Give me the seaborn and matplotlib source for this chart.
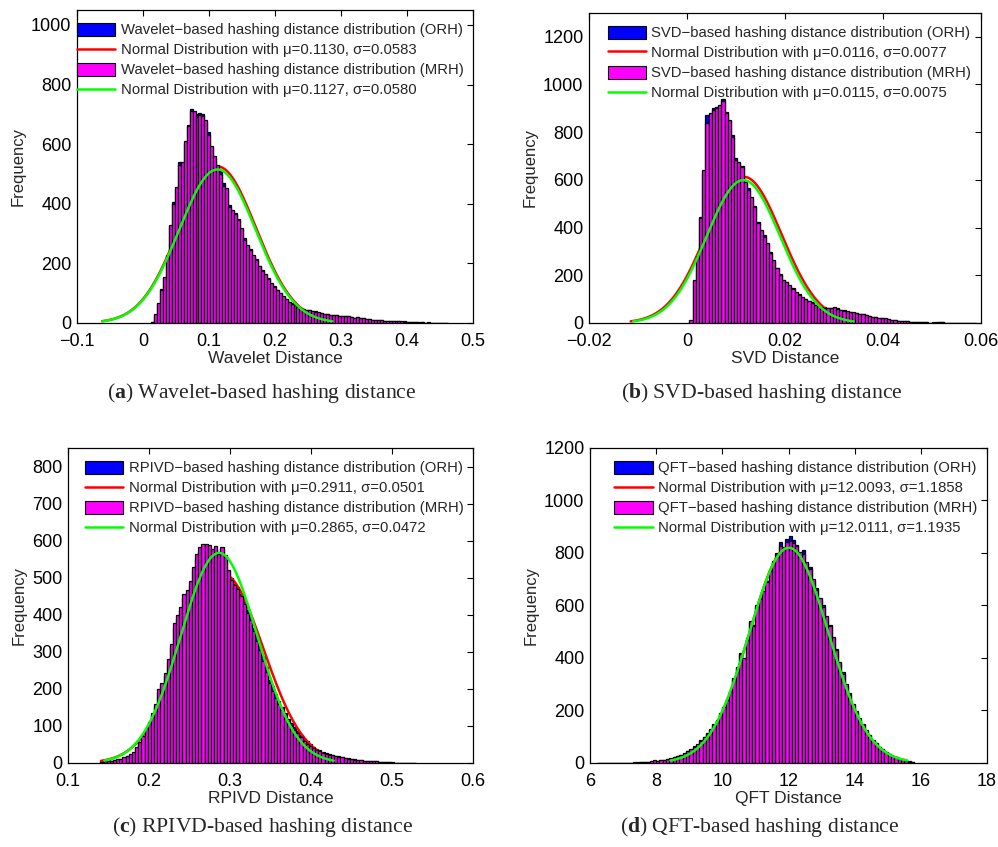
import numpy as np
import pandas as pd
import matplotlib
matplotlib.use('Agg')
import matplotlib.pyplot as plt
import seaborn as sns
from matplotlib.patches import Patch
from matplotlib.lines import Line2D
from matplotlib.ticker import FuncFormatter

# Conteos (MRH = magenta, ORH = azul)
wavelet_mrh = [4, 30, 66, 112, 155, 225, 330, 400, 455, 530,
               540, 612, 660, 710, 712, 690, 698, 695, 680, 630,
               595, 560, 530, 500, 458, 452, 390, 378, 365, 345,
               318, 280, 262, 245, 228, 210, 192, 176, 165, 147,
               134, 122, 112, 100, 90, 80, 72, 64, 60, 54,
               50, 47, 44, 42, 40, 38, 36, 33, 31, 30,
               28, 27, 28, 24, 25, 22, 23, 20, 18, 19,
               16, 15, 14, 13, 11, 10, 10, 9, 8, 8,
               7, 6, 6, 5, 5, 4, 4, 3, 3, 2,
               2, 2, 1, 1, 1, 1, 1, 0, 1, 0]
wavelet_orh = [3, 28, 64, 115, 150, 228, 325, 405, 450, 540,
               535, 605, 665, 718, 705, 700, 705, 700, 675, 640,
               590, 555, 525, 510, 470, 445, 395, 372, 368, 350,
               315, 285, 258, 248, 225, 214, 190, 178, 162, 150,
               132, 124, 110, 102, 88, 82, 70, 66, 58, 55,
               48, 48, 43, 43, 39, 39, 35, 34, 30, 31,
               27, 28, 27, 25, 24, 23, 22, 21, 17, 19,
               15, 16, 13, 14, 10, 11, 9, 10, 7, 8,
               6, 7, 5, 6, 4, 5, 3, 4, 2, 3,
               1, 2, 1, 2, 0, 1, 0, 1, 0, 0]

svd_mrh = [13, 180, 280, 440, 640, 840, 880, 893, 900, 914,
           932, 879, 851, 781, 683, 676, 655, 592, 557, 529,
           487, 418, 390, 362, 334, 292, 264, 229, 200, 182,
           170, 158, 142, 128, 117, 108, 100, 92, 85, 76,
           70, 66, 64, 63, 62, 66, 60, 55, 52, 50,
           47, 44, 40, 38, 36, 33, 30, 27, 24, 22,
           20, 19, 16, 14, 12, 10, 9, 8, 7, 6,
           4, 3, 3, 2, 2, 1, 1, 2, 3, 2,
           1, 0, 1, 0, 1, 0, 1, 0, 0, 1]
svd_orh = [10, 175, 285, 445, 630, 870, 875, 900, 905, 910,
           940, 885, 845, 790, 690, 670, 660, 585, 565, 520,
           490, 425, 385, 368, 330, 298, 260, 232, 205, 180,
           172, 155, 145, 125, 120, 105, 102, 90, 87, 74,
           72, 64, 66, 61, 64, 64, 62, 53, 54, 48,
           48, 43, 41, 37, 37, 32, 31, 26, 25, 21,
           21, 18, 17, 13, 13, 9, 10, 7, 8, 5,
           5, 3, 4, 2, 3, 1, 2, 1, 2, 3,
           1, 1, 0, 1, 0, 1, 0, 1, 0, 0]

rpivd_mrh = [3, 4, 5, 6, 9, 10, 12, 15, 18, 24,
             30, 42, 57, 72, 94, 110, 134, 160, 200, 215,
             242, 280, 320, 377, 400, 420, 457, 466, 490, 530,
             565, 582, 590, 592, 587, 578, 585, 565, 584, 560,
             520, 495, 479, 470, 450, 430, 405, 385, 355, 330,
             304, 275, 245, 215, 195, 175, 158, 142, 125, 112,
             100, 89, 80, 70, 60, 52, 47, 40, 35, 31,
             27, 25, 22, 21, 19, 17, 15, 14, 12, 10,
             9, 8, 7, 6, 6, 5, 4, 4, 3, 3,
             2, 2, 1, 1, 1, 1, 0, 1, 0, 1]
rpivd_orh = [5, 4, 7, 6, 8, 12, 11, 14, 20, 22,
             28, 40, 55, 70, 90, 106, 130, 155, 192, 210,
             236, 272, 312, 365, 392, 412, 445, 460, 480, 520,
             550, 570, 578, 582, 580, 572, 578, 560, 578, 556,
             518, 498, 482, 474, 455, 438, 412, 395, 365, 342,
             315, 288, 258, 225, 208, 186, 168, 152, 136, 120,
             108, 98, 86, 76, 66, 58, 51, 44, 38, 34,
             30, 27, 24, 22, 20, 18, 16, 14, 13, 11,
             10, 8, 8, 6, 6, 5, 5, 4, 3, 3,
             2, 2, 2, 1, 1, 1, 1, 0, 1, 0]

qft_mrh = [1, 0, 1, 0, 1, 0, 1, 1, 0, 1,
           1, 1, 2, 3, 3, 4, 6, 10, 8, 12,
           12, 14, 18, 22, 28, 30, 38, 45, 52, 62,
           72, 85, 100, 112, 128, 145, 165, 185, 215, 240,
           275, 320, 365, 415, 400, 470, 540, 520, 600, 625,
           655, 690, 730, 770, 790, 825, 815, 840, 845, 838,
           825, 805, 795, 765, 740, 700, 660, 630, 595, 560,
           520, 480, 430, 385, 340, 300, 260, 225, 195, 170,
           145, 125, 105, 88, 75, 62, 52, 42, 35, 28,
           22, 16, 12, 8, 5, 3]
qft_orh = [0, 1, 0, 1, 0, 1, 0, 1, 1, 0,
           1, 2, 1, 2, 4, 3, 5, 9, 9, 11,
           13, 15, 17, 23, 27, 32, 36, 46, 50, 64,
           70, 88, 98, 115, 125, 148, 162, 190, 212, 245,
           270, 325, 360, 420, 395, 475, 535, 525, 595, 630,
           650, 695, 735, 765, 800, 840, 822, 855, 865, 850,
           830, 800, 810, 760, 745, 695, 665, 625, 600, 555,
           525, 475, 435, 380, 345, 295, 265, 220, 198, 165,
           148, 122, 108, 85, 78, 60, 54, 40, 36, 27,
           23, 15, 13, 7, 6, 2]

# Parametros de cada panel: inicio de bins, ancho, mu/sigma/pico de las normales
paneles = [
    dict(nombre='Wavelet', mrh=wavelet_mrh, orh=wavelet_orh, inicio=0.012, ancho=0.0045,
         mu_orh=0.1130, sd_orh=0.0583, pico_orh=525, mu_mrh=0.1127, sd_mrh=0.0580, pico_mrh=515,
         xticks=[-0.1, 0, 0.1, 0.2, 0.3, 0.4, 0.5], yticks=range(0, 1001, 200), ylim=1050,
         caption='a', cap_xy=(262, 393), pos=[0.0772, 0.6187, 0.3968, 0.3695]),
    dict(nombre='SVD', mrh=svd_mrh, orh=svd_orh, inicio=0.0005, ancho=0.00065,
         mu_orh=0.0116, sd_orh=0.0077, pico_orh=613, mu_mrh=0.0115, sd_mrh=0.0075, pico_mrh=599,
         xticks=[-0.02, 0, 0.02, 0.04, 0.06], yticks=range(0, 1201, 200), ylim=1300,
         caption='b', cap_xy=(762, 393), pos=[0.5902, 0.6187, 0.3928, 0.3660]),
    dict(nombre='RPIVD', mrh=rpivd_mrh, orh=rpivd_orh, inicio=0.14, ancho=0.0039,
         mu_orh=0.2911, sd_orh=0.0501, pico_orh=510, mu_mrh=0.2865, sd_mrh=0.0472, pico_mrh=567,
         xticks=[0.1, 0.2, 0.3, 0.4, 0.5, 0.6], yticks=range(0, 801, 100), ylim=850,
         caption='c', cap_xy=(262, 827), pos=[0.0681, 0.0992, 0.4058, 0.3719]),
    dict(nombre='QFT', mrh=qft_mrh, orh=qft_orh, inicio=6.2, ancho=0.1,
         mu_orh=12.0093, sd_orh=1.1858, pico_orh=822, mu_mrh=12.0111, sd_mrh=1.1935, pico_mrh=820,
         xticks=[6, 8, 10, 12, 14, 16, 18], yticks=range(0, 1201, 200), ylim=1200,
         caption='d', cap_xy=(760, 827), pos=[0.5912, 0.0992, 0.3978, 0.3719]),
]

sns.set_style('white')
plt.rcParams['font.family'] = ['Liberation Sans', 'DejaVu Sans']
plt.rcParams['mathtext.fontset'] = 'custom'
plt.rcParams['mathtext.rm'] = 'Liberation Serif'
plt.rcParams['mathtext.bf'] = 'Liberation Serif:bold'

azul = '#0000ff'
magenta = '#ff00ff'
rojo = '#ff0000'
verde = '#00ff00'
menos = '\u2212'

W, H = 998, 847
fig = plt.figure(figsize=(W / 100, H / 100), dpi=100)
fmt = FuncFormatter(lambda v, p: f'{v:g}'.replace('-', menos))


def curva_normal(mu, sd, pico):
    xs = np.linspace(mu - 3 * sd, mu + 3 * sd, 300)
    ys = pico * np.exp(-0.5 * ((xs - mu) / sd) ** 2)
    return xs, ys


nombres_cap = {'a': 'Wavelet', 'b': 'SVD', 'c': 'RPIVD', 'd': 'QFT'}

for p in paneles:
    ax = fig.add_axes(p['pos'])
    n = len(p['mrh'])
    bordes = (p['inicio'] + p['ancho'] * np.arange(n + 1)).tolist()
    centros = [(bordes[i] + bordes[i + 1]) / 2 for i in range(n)]
    df = pd.DataFrame({'centro': centros, 'orh': p['orh'], 'mrh': p['mrh']})

    # ORH primero, luego la normal roja, luego MRH encima y la verde al final
    sns.histplot(data=df, x='centro', weights='orh', bins=bordes, ax=ax, color=azul,
                 edgecolor='black', linewidth=0.9, alpha=1, zorder=1)
    xr, yr = curva_normal(p['mu_orh'], p['sd_orh'], p['pico_orh'])
    sns.lineplot(x=xr, y=yr, ax=ax, color=rojo, linewidth=1.8, zorder=2)
    sns.histplot(data=df, x='centro', weights='mrh', bins=bordes, ax=ax, color=magenta,
                 edgecolor='black', linewidth=0.9, alpha=1, zorder=3)
    xg, yg = curva_normal(p['mu_mrh'], p['sd_mrh'], p['pico_mrh'])
    sns.lineplot(x=xg, y=yg, ax=ax, color=verde, linewidth=1.8, zorder=4)

    ax.set_xlim(p['xticks'][0], p['xticks'][-1])
    ax.set_ylim(0, p['ylim'])
    ax.set_xticks(p['xticks'])
    ax.set_yticks(list(p['yticks']))
    ax.xaxis.set_major_formatter(fmt)
    ax.yaxis.set_major_formatter(fmt)
    ax.tick_params(direction='in', length=4, width=0.8, top=True, right=True,
                   labelsize=13, colors='black')
    ax.tick_params(axis='x', pad=7)
    ax.tick_params(axis='y', pad=4)
    for s in ax.spines.values():
        s.set_color('black')
        s.set_linewidth(0.9)
    ax.set_xlabel(f"{p['nombre']} Distance", fontsize=12.5, labelpad=1)
    ax.set_ylabel('Frequency', fontsize=12, labelpad=4)

    nom = p['nombre']
    handles = [
        Patch(facecolor=azul, edgecolor='black', linewidth=0.8),
        Line2D([], [], color=rojo, linewidth=1.8),
        Patch(facecolor=magenta, edgecolor='black', linewidth=0.8),
        Line2D([], [], color=verde, linewidth=1.8),
    ]
    labels = [
        f'{nom}{menos}based hashing distance distribution (ORH)',
        f"Normal Distribution with \u03bc={p['mu_orh']:.4f}, \u03c3={p['sd_orh']:.4f}",
        f'{nom}{menos}based hashing distance distribution (MRH)',
        f"Normal Distribution with \u03bc={p['mu_mrh']:.4f}, \u03c3={p['sd_mrh']:.4f}",
    ]
    ax.legend(handles, labels, loc='upper right', bbox_to_anchor=(1.0, 0.99),
              frameon=False, fontsize=10.7,
              handlelength=2.6, handleheight=0.95, handletextpad=0.35,
              labelspacing=0.37, borderaxespad=0.3, borderpad=0.35)

    # Pie de figura
    cx, cy = p['cap_xy']
    fig.text(cx / W, 1 - cy / H,
             f"($\\mathbf{{{p['caption']}}}$) {nombres_cap[p['caption']]}-based hashing distance",
             ha='center', va='center', fontsize=15.6, family='Liberation Serif')

fig.savefig('out.png', dpi=100)
